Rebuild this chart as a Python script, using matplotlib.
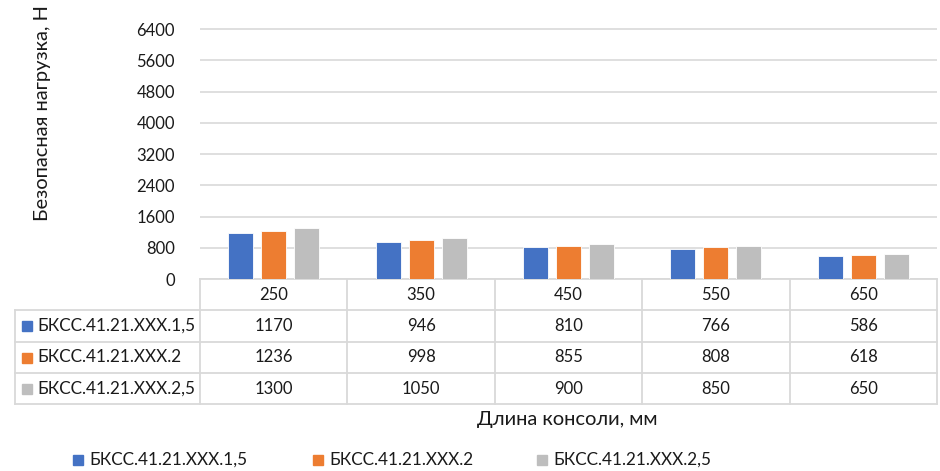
import matplotlib.pyplot as plt
import matplotlib.transforms as mtransforms
from matplotlib.patches import Rectangle
import numpy as np

# DATA
lengths = ['250', '350', '450', '550', '650']
series_names = ['БКСС.41.21.XXX.1,5', 'БКСС.41.21.XXX.2', 'БКСС.41.21.XXX.2,5']
load_15 = [1170, 946, 810, 766, 586]
load_2 = [1236, 998, 855, 808, 618]
load_25 = [1300, 1050, 900, 850, 650]
y_ticks = [0, 800, 1600, 2400, 3200, 4000, 4800, 5600, 6400, 7200]

COLORS = ['#4472C4', '#ED7D31', '#BEBEBE']
GRID = '#D9D9D9'
TXT = '#1A1A1A'
W, H = 940, 471

plt.rcParams['font.family'] = ['Lato', 'DejaVu Sans']
plt.rcParams['font.size'] = 12

fig = plt.figure(figsize=(W / 100, H / 100), dpi=100)


def px(x, y):
    # pixel (from top-left) -> figure fraction
    return x / W, 1 - y / H


def fy(p):
    return 1 - p / H


# axes: x 200..937, y zero at 279, 7200 at about -2 (cut off by the image edge)
ax = fig.add_axes([200 / W, (H - 279) / H, 737 / W, 281 / H])
series = [load_15, load_2, load_25]
x = np.arange(len(lengths))
step = 0.224
bw = 0.17
for i, (vals, c) in enumerate(zip(series, COLORS)):
    ax.bar(x + (i - 1) * step, vals, bw, color=c, edgecolor='white', linewidth=0.6, zorder=3)

ax.set_xlim(-0.5, len(lengths) - 0.5)
ax.set_ylim(0, 7200)
ax.set_yticks(y_ticks)
# top label lies outside the picture in the reference
ax.set_yticklabels([str(t) if t < 7200 else '' for t in y_ticks], color=TXT)
ax.tick_params(axis='y', length=0, pad=18)
ax.set_xticks([])
ax.grid(axis='y', color=GRID, linewidth=1.2, zorder=0)
for s in ax.spines.values():
    s.set_visible(False)

# data table
trans = mtransforms.blended_transform_factory(ax.transData, fig.transFigure)
row_px = [279, 310, 342, 373, 404]
edges = np.arange(len(lengths) + 1) - 0.5
lw = 1.3

# horizontal lines
ax.plot([edges[0], edges[-1]], [fy(row_px[0])] * 2, transform=trans, color=GRID, lw=lw, clip_on=False)
for r in row_px[1:]:
    fig.add_artist(plt.Line2D([15 / W, 937 / W], [fy(r)] * 2, color=GRID, lw=lw))
# vertical lines
for e in edges:
    ax.plot([e, e], [fy(row_px[0]), fy(row_px[-1])], transform=trans, color=GRID, lw=lw, clip_on=False)
fig.add_artist(plt.Line2D([15 / W, 15 / W], [fy(row_px[1]), fy(row_px[-1])], color=GRID, lw=lw))

# header row
for i, lab in enumerate(lengths):
    ax.text(i, fy((row_px[0] + row_px[1]) / 2), lab, transform=trans, ha='center', va='center',
            color=TXT, clip_on=False)
# data rows
for r, (name, vals, c) in enumerate(zip(series_names, series, COLORS)):
    yc = (row_px[r + 1] + row_px[r + 2]) / 2
    fig.add_artist(Rectangle(px(22, yc + 5), 10 / W, 10 / H, color=c, transform=fig.transFigure))
    fig.text(37 / W, fy(yc), name, ha='left', va='center', color=TXT, fontsize=12.3)
    for i, v in enumerate(vals):
        ax.text(i, fy(yc), str(v), transform=trans, ha='center', va='center', color=TXT, clip_on=False)

# axis titles
fig.text(567 / W, fy(420), 'Длина консоли, мм', ha='center', va='center', color=TXT, fontsize=14.5)
fig.text(43 / W, fy(113), 'Безопасная нагрузка, Н', ha='center', va='center', rotation=90,
         color=TXT, fontsize=14.5)

# legend
for (lx, name, c) in zip([73, 313, 537], series_names, COLORS):
    fig.add_artist(Rectangle(px(lx, 465), 10 / W, 10 / H, color=c, transform=fig.transFigure))
    fig.text((lx + 16) / W, fy(460), name, ha='left', va='center', color=TXT, fontsize=12.3)

fig.savefig('out.png', dpi=100)
